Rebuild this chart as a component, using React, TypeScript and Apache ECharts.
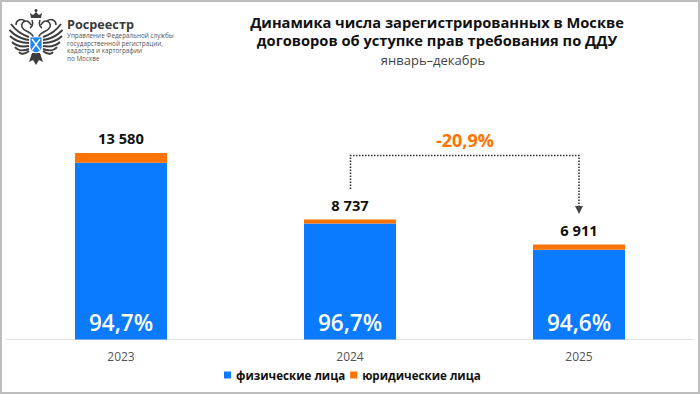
import React, { useEffect, useRef } from "react";
import * as echarts from "echarts";

const categories = ["2023", "2024", "2025"];
const individuals = [12860, 8449, 6538];
const companies = [720, 288, 373];
const totalLabels = ["13 580", "8 737", "6 911"];
const shareLabels = ["94,7%", "96,7%", "94,6%"];
const seriesNames = ["физические лица", "юридические лица"];
const titleLines = ["Динамика числа зарегистрированных в Москве", "договоров об уступке прав требования по ДДУ"];
const subtitle = "январь–декабрь";
const changeLabel = "-20,9%";
const orgName = "Росреестр";
const orgLines = ["Управление Федеральной службы", "государственной регистрации,", "кадастра и картографии", "по Москве"];

const FONT = '"Open Sans", sans-serif';
const BLUE = "#0a7bff";
const ORANGE = "#ff7300";
const DARK = "#3d3d3d";

// Half of the emblem, centred on x = 0, y measured from the page top.
const feathers =
  "M-7 37C-13 35 -20 31 -25 24" +
  "M-7 40C-14 39 -21 36 -26.5 30" +
  "M-7 43C-14 43 -21 41 -26 36" +
  "M-7 46C-13 47 -20 46 -24 42" +
  "M-7 49C-12 51 -18 51 -21 47" +
  "M-7 51C-11 54 -15 55 -17 52";
const neck =
  "M-3 37C-3 32 -12 32 -14 27C-15 24 -13 21 -10 21C-8 21 -6 23 -5 25" +
  "M-11 21C-15 18 -20 20 -20 25" +
  "M-6 28C-3 26 -3 23 -4 20";
const crown = "M-5 18L-6 13L-3 15L0 12L3 15L6 13L5 18Z";
const tail = "M-4 53H4L7 62L3 60L0 65L-3 60L-7 62Z";
const shield = "M-6 37H6V47C6 50 3 52 0 53C-3 52 -6 50 -6 47Z";
echarts.graphic.registerShape("rrFeathers", echarts.graphic.extendPath(feathers, {}) as any);
echarts.graphic.registerShape("rrNeck", echarts.graphic.extendPath(neck, {}) as any);
echarts.graphic.registerShape("rrCrown", echarts.graphic.extendPath(crown, {}) as any);
echarts.graphic.registerShape("rrTail", echarts.graphic.extendPath(tail, {}) as any);
echarts.graphic.registerShape("rrShield", echarts.graphic.extendPath(shield, {}) as any);

export default function App() {
  const ref = useRef<HTMLDivElement>(null);
  useEffect(() => {
    document.body.style.margin = "0";
    const chart = echarts.init(ref.current!, null, { renderer: "svg" });
    const text = (x: number, y: number, t: string, size: number, weight: number, fill: string, align = "center", lineHeight?: number) => ({
      type: "text",
      x,
      y,
      style: { text: t, font: `${weight} ${size}px ${FONT}`, fill, textAlign: align, textVerticalAlign: "middle", lineHeight },
    });
    const cx = 36;
    const half = (scaleX: number) => [
      { type: "rrFeathers", x: cx, y: 0, scaleX, style: { stroke: DARK, fill: "none", lineWidth: 1.9 } },
      { type: "rrNeck", x: cx, y: 0, scaleX, style: { stroke: DARK, fill: "none", lineWidth: 1.6 } },
    ];
    chart.setOption({
      animation: false,
      backgroundColor: "#fff",
      legend: {
        data: seriesNames,
        left: 219,
        top: 364,
        icon: "rect",
        itemWidth: 7,
        itemHeight: 7,
        itemGap: 5,
        textStyle: { fontFamily: FONT, fontSize: 11.6, fontWeight: 700, color: "#111" },
      },
      grid: { left: 6.5, right: 6.5, top: 147.2, bottom: 54.5 },
      xAxis: {
        type: "category",
        data: categories,
        axisLine: { lineStyle: { color: "#e3e3e3" } },
        axisTick: { show: false },
        axisLabel: { color: "#555", fontFamily: FONT, fontSize: 12, margin: 11 },
      },
      yAxis: { type: "value", min: 0, max: 14000, show: false },
      series: [
        {
          name: seriesNames[0],
          type: "bar",
          stack: "t",
          barWidth: 92,
          data: individuals,
          itemStyle: { color: BLUE },
          label: {
            show: true,
            position: "insideBottom",
            distance: 6,
            formatter: (p: any) => shareLabels[p.dataIndex],
            color: "#fff",
            fontFamily: FONT,
            fontSize: 22.5,
            fontWeight: 600,
          },
        },
        {
          name: seriesNames[1],
          type: "bar",
          stack: "t",
          barWidth: 92,
          data: companies,
          itemStyle: { color: ORANGE },
          label: {
            show: true,
            position: "top",
            distance: 7,
            formatter: (p: any) => totalLabels[p.dataIndex],
            color: "#111",
            fontFamily: FONT,
            fontSize: 14.7,
            fontWeight: 700,
          },
        },
      ],
      graphic: [
        { type: "rect", shape: { x: 1, y: 1, width: 698, height: 392 }, style: { stroke: "#bdbdbd", fill: "none", lineWidth: 2 } },
        text(437, 21.5, titleLines[0], 14.67, 700, "#111", "center", 17),
        text(437, 39.5, titleLines[1], 14.67, 700, "#111", "center", 17),
        text(433, 60, subtitle, 13, 400, "#444"),
        text(465, 140, changeLabel, 18, 700, ORANGE),
        {
          type: "polyline",
          shape: { points: [[350.5, 189], [350.5, 155.5], [579, 155.5], [579, 207]] },
          style: { stroke: "#333", fill: "none", lineWidth: 1.6, lineDash: [1.5, 1.5] },
        },
        { type: "polygon", shape: { points: [[575, 206], [583, 206], [579, 214]] }, style: { fill: "#444" } },
        text(67, 24, orgName, 12.7, 700, "#3a3a3a", "left", 12),
        ...orgLines.map((l, i) => text(67, 35.4 + i * 7.6, l, 6.35, 400, "#555", "left", 7)),
        ...half(1),
        ...half(-1),
        { type: "rrCrown", x: cx, y: 0, style: { fill: DARK } },
        { type: "circle", shape: { cx, cy: 10.5, r: 1.5 }, style: { fill: DARK } },
        { type: "rrTail", x: cx, y: 0, style: { fill: DARK } },
        { type: "rrShield", x: cx, y: 0, style: { fill: "#1f86f2", stroke: "#fff", lineWidth: 0.8 } },
        { type: "line", shape: { x1: cx - 4, y1: 39, x2: cx + 4, y2: 50 }, style: { stroke: "#fff", lineWidth: 1.3 } },
        { type: "line", shape: { x1: cx + 4, y1: 39, x2: cx - 4, y2: 50 }, style: { stroke: "#fff", lineWidth: 1.3 } },
      ],
    } as any);
    return () => chart.dispose();
  }, []);
  return <div ref={ref} style={{ width: 700, height: 394 }} />;
}
